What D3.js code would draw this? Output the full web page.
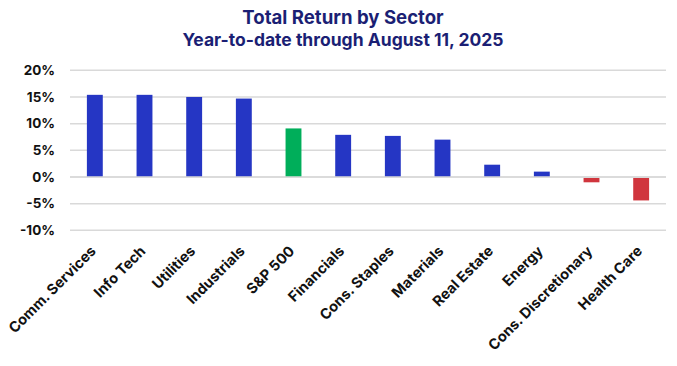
<!DOCTYPE html>
<html>
<head>
<meta charset="utf-8">
<script src="https://cdn.jsdelivr.net/npm/d3@7"></script>
<style>
  body { margin: 0; background: #fff; }
  svg { display: block; font-family: Inter, "Open Sans", sans-serif; }
</style>
</head>
<body>
<svg id="chart" width="677" height="366"></svg>
<script>
const sectors = ['Comm. Services', 'Info Tech', 'Utilities', 'Industrials', 'S&P 500', 'Financials',
  'Cons. Staples', 'Materials', 'Real Estate', 'Energy', 'Cons. Discretionary', 'Health Care'];
const returns = [15.4, 15.4, 15.0, 14.7, 9.1, 7.9, 7.7, 7.0, 2.3, 1.0, -1.0, -4.4];
const yTicks = [-10, -5, 0, 5, 10, 15, 20];
const benchmark = 'S&P 500';

const width = 677, height = 366;
const margin = { top: 70, right: 11, bottom: 136, left: 70 };

const svg = d3.select('#chart');

const x = d3.scaleBand()
  .domain(sectors)
  .range([margin.left, width - margin.right])
  .paddingInner(0.68)
  .paddingOuter(0.34);

const y = d3.scaleLinear()
  .domain([-10, 20])
  .range([height - margin.bottom + 0.3, margin.top + 0.3]);

function barColor(name, v) {
  if (name === benchmark) return '#00ae5a';
  return v < 0 ? '#d0353d' : '#2536c4';
}

// title
svg.append('text')
  .attr('x', 343).attr('y', 24)
  .attr('text-anchor', 'middle')
  .attr('fill', '#1b1f74')
  .attr('font-size', 18.6).attr('font-weight', 700)
  .text('Total Return by Sector');
svg.append('text')
  .attr('x', 343).attr('y', 46)
  .attr('text-anchor', 'middle')
  .attr('fill', '#1b1f74')
  .attr('font-size', 17.5).attr('font-weight', 700)
  .text('Year-to-date through August 11, 2025');

// grid
const grid = svg.append('g');
grid.selectAll('line')
  .data(yTicks)
  .join('line')
  .attr('x1', margin.left).attr('x2', width - margin.right)
  .attr('y1', d => y(d)).attr('y2', d => y(d))
  .attr('stroke', '#d9d9d9').attr('stroke-width', 1.5);

// y axis
const yAxis = svg.append('g')
  .attr('transform', `translate(${margin.left - 15},0)`)
  .call(d3.axisLeft(y).tickValues(yTicks).tickSize(0).tickPadding(0).tickFormat(d => d + '%'));
yAxis.select('.domain').remove();
yAxis.selectAll('text')
  .attr('font-family', 'Inter, sans-serif')
  .attr('font-size', 13.5).attr('font-weight', 700).attr('fill', '#111');

// bars
svg.append('g').selectAll('rect')
  .data(sectors.map((s, i) => ({ s, v: returns[i] })))
  .join('rect')
  .attr('x', d => x(d.s))
  .attr('width', x.bandwidth())
  .attr('y', d => d.v >= 0 ? y(d.v) : y(0) + 1)
  .attr('height', d => d.v >= 0 ? y(0) - y(d.v) : y(d.v) - y(0) - 1)
  .attr('fill', d => barColor(d.s, d.v));

svg.append('line')
  .attr('x1', margin.left).attr('x2', width - margin.right)
  .attr('y1', y(0)).attr('y2', y(0))
  .attr('stroke', '#d9d9d9').attr('stroke-width', 1.5);

// x labels
const xAxis = svg.append('g')
  .attr('transform', 'translate(0,252)')
  .call(d3.axisBottom(x).tickSize(0).tickPadding(0));
xAxis.select('.domain').remove();
xAxis.selectAll('text')
  .attr('font-family', 'Inter, sans-serif')
  .attr('font-size', 14.5).attr('font-weight', 700).attr('fill', '#111')
  .attr('text-anchor', 'end')
  .attr('dy', 0)
  .attr('transform', 'translate(2,0) rotate(-45)');
</script>
</body>
</html>
